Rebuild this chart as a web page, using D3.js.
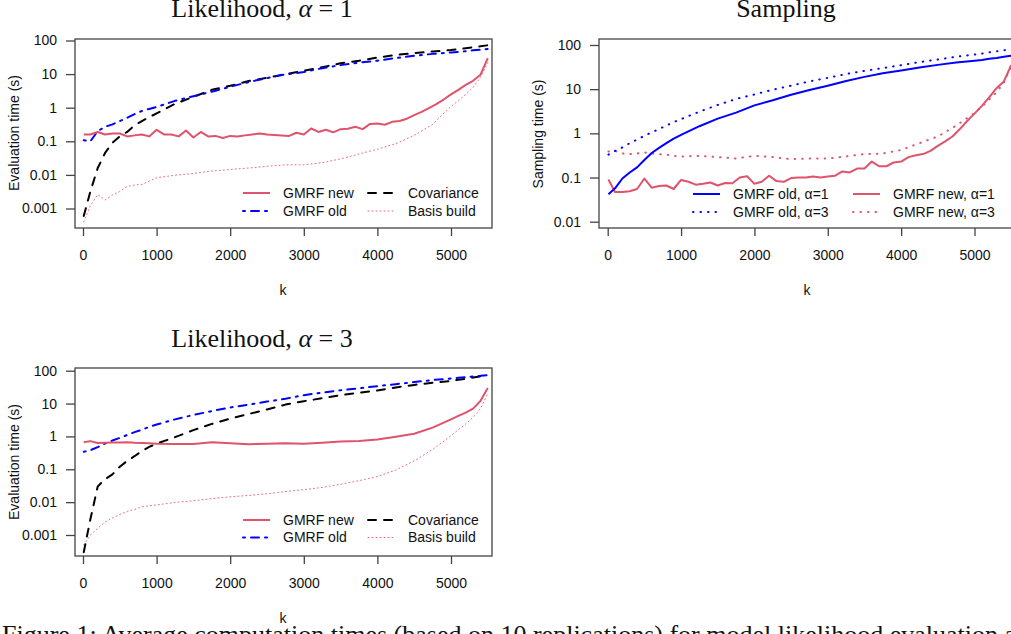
<!DOCTYPE html>
<html>
<head>
<meta charset="utf-8">
<script src="https://cdn.jsdelivr.net/npm/d3@7"></script>
<style>
	body { margin: 0; background: #fff; overflow: hidden; }
	svg { display: block; }
</style>
</head>
<body>
<div id="chart"></div>
<script>
// k values: fine grid for the jagged GMRF new curves, coarser grid for the smooth ones
const kFine = [
	10, 100, 200, 300, 400, 500, 600, 700, 800, 900,
	1000, 1100, 1200, 1300, 1400, 1500, 1600, 1700, 1800, 1900,
	2000, 2100, 2200, 2300, 2400, 2500, 2600, 2700, 2800, 2900,
	3000, 3100, 3200, 3300, 3400, 3500, 3600, 3700, 3800, 3900,
	4000, 4100, 4200, 4300, 4400, 4500, 4600, 4700, 4800, 4900,
	5000, 5100, 5200, 5300, 5400, 5500,
];
const kCoarse = [
	10, 100, 200, 300, 400, 500, 600, 700, 800, 900, 1000,
	1250, 1500, 1750, 2000, 2250, 2500, 2750, 3000, 3250, 3500,
	3750, 4000, 4250, 4500, 4750, 5000, 5100, 5200, 5300, 5400, 5500,
];

// Likelihood, alpha = 1 (seconds)
const lik1GmrfNew = [
	0.16, 0.16, 0.19, 0.16, 0.17, 0.17, 0.14, 0.15, 0.16, 0.14,
	0.22, 0.16, 0.16, 0.14, 0.21, 0.13, 0.19, 0.14, 0.145, 0.125,
	0.145, 0.14, 0.15, 0.16, 0.17, 0.16, 0.155, 0.15, 0.145, 0.18,
	0.16, 0.24, 0.19, 0.22, 0.185, 0.23, 0.235, 0.27, 0.23, 0.33,
	0.34, 0.31, 0.38, 0.4, 0.47, 0.6, 0.75, 0.97, 1.28, 1.75,
	2.5, 3.4, 4.8, 6.3, 9.5, 30,
];
const lik1GmrfOld = [
	0.107, 0.1, 0.2, 0.27, 0.32, 0.4, 0.5, 0.64, 0.8, 0.92, 1.05,
	1.6, 2.2, 3.0, 4.2, 5.8, 7.6, 9.8, 11.5, 15, 18.5,
	22, 25, 30, 35, 40, 44, 46, 48, 51, 53, 56,
];
const lik1Covariance = [
	0.0006, 0.0032, 0.016, 0.045, 0.09, 0.14, 0.19, 0.3, 0.4, 0.52, 0.68,
	1.3, 2.1, 3.4, 4.5, 6.2, 7.8, 10, 12.5, 16, 21,
	25, 31, 37, 42, 47, 52, 55, 59, 63, 67, 72,
];
const lik1Basis = [
	0.0004, 0.0012, 0.0026, 0.0018, 0.0025, 0.0032, 0.0045, 0.005, 0.0052, 0.0065, 0.0082,
	0.0098, 0.011, 0.013, 0.0145, 0.016, 0.018, 0.02, 0.02, 0.023, 0.03,
	0.042, 0.058, 0.085, 0.15, 0.32, 1.1, 1.6, 2.5, 4, 8, 22,
];

// Sampling (seconds)
const sampOld1 = [
	0.042, 0.057, 0.095, 0.13, 0.17, 0.25, 0.36, 0.47, 0.6, 0.76, 0.92,
	1.45, 2.15, 2.95, 4.3, 5.6, 7.5, 9.6, 12, 15.3, 19,
	23, 26.5, 31, 35.5, 40, 44, 46, 49, 51, 54, 57,
];
const sampOld3 = [
	0.33, 0.4, 0.48, 0.6, 0.72, 0.88, 1.05, 1.25, 1.5, 1.8, 2.1,
	3.1, 4.4, 6.0, 7.6, 9.7, 12, 15, 18, 22, 26,
	30, 35, 41, 47, 54, 61, 64, 68, 72, 76, 80,
];
const sampNew1 = [
	0.09, 0.047, 0.047, 0.049, 0.055, 0.095, 0.059, 0.064, 0.066, 0.055,
	0.088, 0.08, 0.069, 0.072, 0.077, 0.066, 0.075, 0.074, 0.1, 0.107,
	0.072, 0.08, 0.11, 0.083, 0.08, 0.097, 0.1, 0.1, 0.105, 0.1,
	0.105, 0.11, 0.137, 0.13, 0.16, 0.16, 0.23, 0.18, 0.18, 0.22,
	0.23, 0.29, 0.32, 0.34, 0.4, 0.52, 0.66, 0.85, 1.25, 1.9,
	2.8, 4.2, 6.5, 10.5, 15, 35,
];
const sampNew3 = [
	0.39, 0.4, 0.35, 0.34, 0.35, 0.37, 0.35, 0.34, 0.33, 0.31, 0.3,
	0.31, 0.29, 0.27, 0.31, 0.29, 0.26, 0.27, 0.27, 0.3, 0.34,
	0.35, 0.42, 0.6, 0.85, 1.5, 2.9, 4.0, 5.8, 8.5, 14, 33,
];

// Likelihood, alpha = 3 (seconds)
const lik3GmrfNew = [
	0.66, 0.72, 0.63, 0.64, 0.65, 0.65, 0.66, 0.64, 0.63, 0.62, 0.6,
	0.59, 0.59, 0.66, 0.62, 0.58, 0.6, 0.62, 0.6, 0.64, 0.7,
	0.73, 0.8, 0.98, 1.2, 1.85, 3.3, 4.2, 5.3, 7, 12, 30,
];
const lik3GmrfOld = [
	0.34, 0.38, 0.47, 0.61, 0.75, 0.9, 1.1, 1.35, 1.6, 1.95, 2.3,
	3.3, 4.5, 5.9, 7.6, 9.3, 11.5, 14, 18, 21.5, 25.5,
	29, 34, 39, 45, 52, 58, 61, 64, 67, 70, 74,
];
const lik3Covariance = [
	0.0003, 0.003, 0.03, 0.05, 0.07, 0.12, 0.18, 0.25, 0.36, 0.48, 0.6,
	0.95, 1.55, 2.4, 3.5, 4.8, 6.6, 9.3, 11.8, 14.5, 18,
	21.5, 25, 31, 37, 43, 49, 53, 57, 62, 67, 73,
];
const lik3Basis = [
	0.0005, 0.001, 0.0016, 0.0025, 0.0033, 0.0042, 0.0052, 0.006, 0.0072, 0.0078, 0.0082,
	0.0098, 0.011, 0.0128, 0.0145, 0.016, 0.018, 0.021, 0.024, 0.028, 0.035,
	0.045, 0.06, 0.095, 0.18, 0.4, 1.05, 1.6, 2.4, 3.8, 7, 20,
];

// tick values
const xTicks = [0, 1000, 2000, 3000, 4000, 5000];
const yTicksLik = [0.001, 0.01, 0.1, 1, 10, 100];
const yTicksSamp = [0.01, 0.1, 1, 10, 100];

const sans = "'Liberation Sans', Arial, Helvetica, sans-serif";
const serif = "'Liberation Serif', 'Times New Roman', serif";
const red = "#DF536B";
const blue = "#0000FF";

// R-like line types (lwd 2 unless stated)
const lineStyles = {
	solidRed: { stroke: red, width: 2 },
	dotdashBlue: { stroke: blue, width: 2, dash: "2,6,8,6" },
	dashBlack: { stroke: "#000", width: 2, dash: "8,8" },
	basis: { stroke: red, width: 1, dash: "1,3", opacity: 0.85 },
	solidBlue: { stroke: blue, width: 2 },
	dotBlue: { stroke: blue, width: 2, dash: "0.5,7" },
	dotRed: { stroke: red, width: 2, dash: "0.5,7" },
};

const width = 1011;
const height = 634;

const svg = d3
	.select("#chart")
	.append("svg")
	.attr("width", width)
	.attr("height", height);

function styleLine(sel, st) {
	sel.attr("fill", "none")
		.attr("stroke", st.stroke)
		.attr("stroke-width", st.width)
		.attr("stroke-linecap", st.dash ? "round" : "butt")
		.attr("stroke-linejoin", "round")
		.attr("stroke-dasharray", st.dash || null)
		.attr("opacity", st.opacity || 1);
}

function drawPanel(cfg, id) {
	const g = svg.append("g");
	const box = cfg.box;

	const x = d3.scaleLinear().domain([0, 5000]).range(cfg.xRange);
	const y = d3.scaleLog().domain(cfg.yDomain).range(cfg.yRange);

	// clip to plotting region
	g.append("clipPath")
		.attr("id", "clip" + id)
		.append("rect")
		.attr("x", box.left)
		.attr("y", box.top)
		.attr("width", box.right - box.left)
		.attr("height", box.bottom - box.top);

	const line = d3
		.line()
		.x((d) => x(d[0]))
		.y((d) => y(d[1]));

	const plot = g.append("g").attr("clip-path", "url(#clip" + id + ")");
	cfg.series.forEach((s) => {
		const pts = s.k.map((k, i) => [k, s.values[i]]);
		plot.append("path").attr("d", line(pts)).call(styleLine, lineStyles[s.style]);
	});

	// box
	g.append("rect")
		.attr("x", box.left)
		.attr("y", box.top)
		.attr("width", box.right - box.left)
		.attr("height", box.bottom - box.top)
		.attr("fill", "none")
		.attr("stroke", "#444")
		.attr("stroke-width", 1.3);

	// x axis
	const xAxis = d3
		.axisBottom(x)
		.tickValues(xTicks)
		.tickSize(8)
		.tickPadding(14)
		.tickFormat(d3.format("d"));
	const gx = g.append("g").attr("transform", `translate(0,${box.bottom})`).call(xAxis);
	gx.select(".domain").remove();
	gx.selectAll("line").attr("stroke", "#444").attr("stroke-width", 1.3);
	gx.selectAll("text")
		.attr("font-family", sans)
		.attr("font-size", 14)
		.attr("fill", "#111");

	// y axis
	const yAxis = d3
		.axisLeft(y)
		.tickValues(cfg.yTicks)
		.tickSize(9)
		.tickPadding(9)
		.tickFormat((d) => String(d));
	const gy = g.append("g").attr("transform", `translate(${box.left},0)`).call(yAxis);
	gy.select(".domain").remove();
	gy.selectAll("line").attr("stroke", "#444").attr("stroke-width", 1.3);
	gy.selectAll("text")
		.attr("font-family", sans)
		.attr("font-size", 14)
		.attr("fill", "#111");

	// title with italic alpha
	const title = g
		.append("text")
		.attr("x", cfg.titleX)
		.attr("y", cfg.titleY)
		.attr("text-anchor", "middle")
		.attr("font-family", serif)
		.attr("font-size", 26)
		.attr("fill", "#111");
	cfg.title.forEach((part) => {
		title.append("tspan").attr("font-style", part.italic ? "italic" : "normal").text(part.text);
	});

	// axis titles
	g.append("text")
		.attr("x", cfg.xLabelX)
		.attr("y", cfg.xLabelY)
		.attr("text-anchor", "middle")
		.attr("font-family", sans)
		.attr("font-size", 14)
		.attr("fill", "#111")
		.text("k");

	g.append("text")
		.attr("transform", `translate(${cfg.yLabelX},${cfg.yLabelY}) rotate(-90)`)
		.attr("text-anchor", "middle")
		.attr("dy", "0.35em")
		.attr("font-family", sans)
		.attr("font-size", 14)
		.attr("fill", "#111")
		.text(cfg.yLabel);

	// legend, two columns
	const lg = g.append("g");
	cfg.legend.forEach((item) => {
		const row = lg.append("g").attr("transform", `translate(${item.x},${item.y})`);
		row.append("line")
			.attr("x1", 0)
			.attr("x2", 27)
			.attr("y1", 0)
			.attr("y2", 0)
			.call(styleLine, lineStyles[item.style]);
		row.append("text")
			.attr("x", 40)
			.attr("dy", "0.35em")
			.attr("font-family", sans)
			.attr("font-size", 14)
			.attr("fill", "#111")
			.text(item.label);
	});
}

// Likelihood, alpha = 1
drawPanel(
	{
		box: { left: 75, right: 492, top: 39, bottom: 228 },
		xRange: [83, 451],
		yDomain: [0.001, 100],
		yRange: [208.5, 40.5],
		yTicks: yTicksLik,
		title: [{ text: "Likelihood, " }, { text: "α", italic: true }, { text: " = 1" }],
		titleX: 262,
		titleY: 17,
		xLabelX: 283,
		xLabelY: 295,
		yLabel: "Evaluation time (s)",
		yLabelX: 14,
		yLabelY: 133,
		series: [
			{ k: kCoarse, values: lik1Basis, style: "basis" },
			{ k: kCoarse, values: lik1Covariance, style: "dashBlack" },
			{ k: kCoarse, values: lik1GmrfOld, style: "dotdashBlue" },
			{ k: kFine, values: lik1GmrfNew, style: "solidRed" },
		],
		legend: [
			{ x: 243, y: 193, style: "solidRed", label: "GMRF new" },
			{ x: 243, y: 211, style: "dotdashBlue", label: "GMRF old" },
			{ x: 368, y: 193, style: "dashBlack", label: "Covariance" },
			{ x: 368, y: 211, style: "basis", label: "Basis build" },
		],
	},
	1
);

// Sampling
drawPanel(
	{
		box: { left: 599, right: 1017, top: 39, bottom: 228 },
		xRange: [607.7, 974.5],
		yDomain: [0.01, 100],
		yRange: [221.7, 45],
		yTicks: yTicksSamp,
		title: [{ text: "Sampling" }],
		titleX: 786,
		titleY: 17,
		xLabelX: 807,
		xLabelY: 295,
		yLabel: "Sampling time (s)",
		yLabelX: 538,
		yLabelY: 134,
		series: [
			{ k: kCoarse, values: sampNew3, style: "dotRed" },
			{ k: kFine, values: sampNew1, style: "solidRed" },
			{ k: kCoarse, values: sampOld3, style: "dotBlue" },
			{ k: kCoarse, values: sampOld1, style: "solidBlue" },
		],
		legend: [
			{ x: 693, y: 194, style: "solidBlue", label: "GMRF old, α=1" },
			{ x: 693, y: 212, style: "dotBlue", label: "GMRF old, α=3" },
			{ x: 853, y: 194, style: "solidRed", label: "GMRF new, α=1" },
			{ x: 853, y: 212, style: "dotRed", label: "GMRF new, α=3" },
		],
	},
	2
);

// Likelihood, alpha = 3
drawPanel(
	{
		box: { left: 75, right: 492, top: 368, bottom: 556 },
		xRange: [83, 451],
		yDomain: [0.001, 100],
		yRange: [535, 370.7],
		yTicks: yTicksLik,
		title: [{ text: "Likelihood, " }, { text: "α", italic: true }, { text: " = 3" }],
		titleX: 262,
		titleY: 347,
		xLabelX: 283,
		xLabelY: 623,
		yLabel: "Evaluation time (s)",
		yLabelX: 14,
		yLabelY: 462,
		series: [
			{ k: kCoarse, values: lik3Basis, style: "basis" },
			{ k: kCoarse, values: lik3Covariance, style: "dashBlack" },
			{ k: kCoarse, values: lik3GmrfOld, style: "dotdashBlue" },
			{ k: kCoarse, values: lik3GmrfNew, style: "solidRed" },
		],
		legend: [
			{ x: 243, y: 520, style: "solidRed", label: "GMRF new" },
			{ x: 243, y: 537.5, style: "dotdashBlue", label: "GMRF old" },
			{ x: 368, y: 520, style: "dashBlack", label: "Covariance" },
			{ x: 368, y: 537.5, style: "basis", label: "Basis build" },
		],
	},
	3
);

// figure caption, cut off at the bottom edge like the source
svg.append("text")
	.attr("x", 2)
	.attr("y", 643)
	.attr("font-family", serif)
	.attr("font-size", 26)
	.attr("fill", "#111")
	.text("Figure 1: Average computation times (based on 10 replications) for model likelihood evaluation and sampling times");
</script>
</body>
</html>
